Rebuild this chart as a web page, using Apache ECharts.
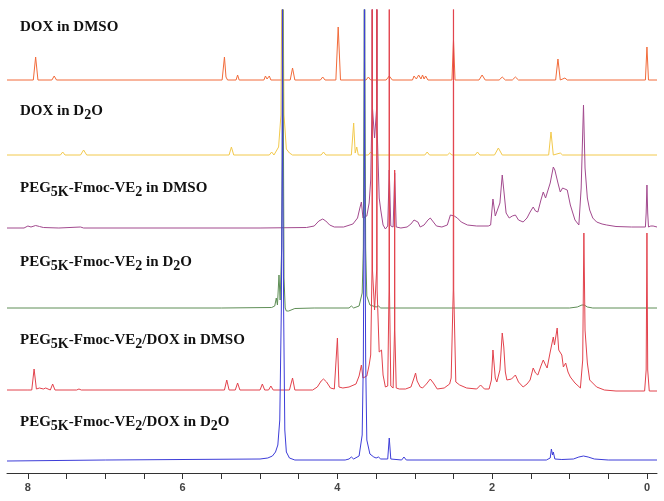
<!DOCTYPE html>
<html>
<head>
<meta charset="utf-8">
<script src="https://cdn.jsdelivr.net/npm/echarts@6/dist/echarts.min.js"></script>
<style>
  html, body { margin: 0; padding: 0; background: #fff; }
  #chart { width: 664px; height: 501px; }
</style>
</head>
<body>
<div id="chart"></div>
<script>
// chemical shift axis (ppm), drawn right-to-left
const ppmMin = -0.13
const ppmMax = 8.27
const majorTicks = [0, 2, 4, 6, 8]
const minorTicks = [0, 0.5, 1, 1.5, 2, 2.5, 3, 3.5, 4, 4.5, 5, 5.5, 6, 6.5, 7, 7.5, 8]

// spectra: [ppm, intensity], intensity in plot units above each baseline
const doxDmso = [
  [8.27, 0], [7.93, 0], [7.90, 23], [7.87, 0], [7.69, 0], [7.66, 4], [7.63, 0],
  [5.49, 0], [5.46, 23], [5.44, 3], [5.42, 0], [5.31, 0], [5.29, 5], [5.27, 0],
  [4.95, 0], [4.93, 4], [4.91, 1], [4.88, 4], [4.86, 0],
  [4.61, 0], [4.58, 12], [4.55, 0], [4.22, 0], [4.19, 3], [4.16, 0],
  [4.02, 0], [3.99, 53], [3.96, 0], [3.63, 0], [3.60, 3], [3.57, 0],
  [3.37, 0], [3.33, 4], [3.29, 0],
  [3.03, 0], [3.01, 4], [2.98, 1], [2.95, 5], [2.92, 1], [2.90, 5], [2.88, 1], [2.86, 4], [2.83, 0],
  [2.52, 0], [2.50, 40], [2.48, 0], [2.17, 0], [2.13, 5], [2.09, 0],
  [1.91, 0], [1.87, 3], [1.83, 0], [1.74, 0], [1.70, 3], [1.66, 0],
  [1.18, 0], [1.15, 21], [1.12, 0], [1.06, 2], [1.03, 0],
  [0.02, 0], [0.00, 33], [-0.02, 0], [-0.13, 0]
]

const doxD2o = [
  [8.27, 0], [7.58, 0], [7.55, 3], [7.52, 0], [7.32, 0], [7.28, 5], [7.24, 0],
  [5.40, 0], [5.37, 8], [5.34, 0], [4.88, 0], [4.85, 3], [4.82, 0],
  [4.80, 2], [4.76, 8], [4.73, 40], [4.715, 200], [4.71, 600], [4.705, 200], [4.69, 40], [4.66, 6], [4.62, 2], [4.58, 0],
  [4.21, 0], [4.18, 3], [4.15, 0],
  [3.82, 0], [3.79, 32], [3.77, 2], [3.75, 8], [3.73, 0], [3.60, 0], [3.57, 3], [3.54, 0],
  [2.87, 0], [2.84, 3], [2.81, 0], [2.58, 0], [2.55, 2], [2.52, 0],
  [2.22, 0], [2.19, 3], [2.16, 0], [1.97, 0], [1.92, 7], [1.87, 0],
  [1.27, 0], [1.24, 23], [1.21, 0], [1.12, 2], [1.09, 0], [-0.13, 0]
]

const pegDmso = [
  [8.27, 0], [8.05, 0], [8.00, 2], [7.96, 1], [7.90, 2.5], [7.85, 1.5], [7.80, 0.5], [7.60, 0], [7.32, 1], [7.28, 0],
  [5.00, 0], [4.40, 0.5], [4.30, 2], [4.24, 7], [4.19, 9], [4.15, 7], [4.10, 3], [4.04, 1],
  [3.92, 1], [3.80, 4], [3.74, 10], [3.71, 20], [3.69, 26], [3.67, 10], [3.65, 8], [3.62, 12],
  [3.59, 25], [3.57, 48], [3.553, 120], [3.55, 600], [3.547, 120], [3.52, 90], [3.493, 120], [3.49, 600], [3.487, 100],
  [3.46, 30], [3.44, 18], [3.41, 3],
  [3.38, -1], [3.35, 2], [3.33, 58], [3.31, 2], [3.28, 1], [3.26, 55], [3.24, 1], [3.18, 0],
  [3.10, 1], [3.05, 4], [3.01, 8], [2.99, 9], [2.96, 6], [2.93, 1], [2.88, 3], [2.83, 8], [2.80, 10],
  [2.77, 7], [2.72, 2], [2.65, 1], [2.58, 3], [2.54, 13], [2.52, 15], [2.49, 12], [2.45, 10],
  [2.40, 6], [2.32, 3], [2.20, 2], [2.05, 2], [2.02, 3], [1.99, 29], [1.96, 12], [1.94, 11],
  [1.90, 25], [1.87, 53], [1.85, 38], [1.82, 15], [1.78, 10], [1.74, 12], [1.70, 13], [1.66, 8],
  [1.60, 6], [1.55, 10], [1.51, 16], [1.47, 21], [1.44, 17], [1.41, 16], [1.37, 28], [1.34, 36],
  [1.31, 30], [1.29, 28], [1.25, 45], [1.21, 61], [1.19, 58], [1.17, 56], [1.15, 45], [1.12, 36],
  [1.09, 40], [1.06, 39], [1.03, 38], [0.99, 23], [0.93, 8], [0.88, 3], [0.85, 40], [0.82, 123],
  [0.80, 60], [0.77, 30], [0.74, 18], [0.70, 10], [0.65, 6], [0.58, 4], [0.52, 3], [0.40, 1.5],
  [0.20, 1], [0.02, 1], [0.01, 15], [0.00, 43], [-0.01, 15], [-0.02, 1], [-0.05, 2], [-0.06, 3],
  [-0.08, 2], [-0.10, 1], [-0.13, 1]
]

const pegD2o = [
  [8.27, 0], [5.50, 0], [4.85, 0.5], [4.81, 2], [4.79, 10], [4.775, 3], [4.755, 33], [4.74, 8],
  [4.72, 60], [4.708, 250], [4.705, 600], [4.702, 250], [4.69, 30], [4.675, 0], [4.66, -3], [4.645, -1], [4.63, -3], [4.61, -1],
  [4.55, -0.5], [4.30, 0], [3.85, 0], [3.82, 2], [3.79, 0], [3.72, 2], [3.68, 15], [3.665, 60],
  [3.655, 250], [3.65, 600], [3.645, 250], [3.635, 60], [3.62, 12], [3.58, 3], [3.50, 1], [3.47, 2], [3.44, 0],
  [1.00, 0], [0.90, 1], [0.84, 3], [0.81, 3], [0.77, 1], [0.70, 0], [-0.13, 0]
]

const pegDoxDmso = [
  [8.27, 0], [8.00, 0], [7.95, 0], [7.92, 21], [7.89, 1], [7.85, 2], [7.83, 2], [7.80, 1], [7.77, 2],
  [7.75, 1], [7.71, 0], [7.68, 6], [7.65, 0], [7.37, 0], [7.34, 1], [7.31, 0],
  [5.46, 0], [5.43, 10], [5.40, 0], [5.32, 0], [5.29, 7], [5.26, 0], [5.00, 0], [4.97, 6], [4.94, 0],
  [4.89, 0], [4.86, 4], [4.83, 0], [4.62, 0], [4.58, 12], [4.55, 0],
  [4.32, 0], [4.26, 3], [4.21, 9], [4.18, 11], [4.14, 8], [4.09, 2], [4.04, 1], [4.02, 3], [4.00, 52],
  [3.98, 3], [3.93, 2], [3.85, 3], [3.76, 6], [3.72, 14], [3.69, 25], [3.67, 12], [3.65, 10],
  [3.62, 14], [3.59, 25], [3.57, 35], [3.553, 120], [3.55, 600], [3.547, 120], [3.52, 80],
  [3.493, 120], [3.49, 600], [3.487, 100], [3.46, 38], [3.43, 40],
  [3.41, 15], [3.38, 3], [3.35, 4], [3.333, 100], [3.33, 600], [3.327, 100], [3.31, 4], [3.28, 2],
  [3.262, 60], [3.26, 220], [3.258, 60], [3.24, 2],
  [3.20, 1], [3.12, 1], [3.05, 3], [3.01, 12], [2.99, 17], [2.97, 9], [2.95, 10], [2.93, 3],
  [2.90, 2], [2.85, 6], [2.80, 11], [2.76, 7], [2.71, 1], [2.62, 2], [2.55, 6], [2.53, 12],
  [2.503, 100], [2.50, 600], [2.497, 100], [2.47, 8], [2.42, 5], [2.33, 2], [2.20, 1], [2.15, 5], [2.10, 1], [2.04, 1],
  [2.01, 10], [1.99, 40], [1.96, 12], [1.94, 8], [1.90, 20], [1.87, 57], [1.85, 43], [1.83, 18],
  [1.81, 10], [1.75, 11], [1.70, 15], [1.66, 8], [1.60, 3], [1.55, 6], [1.51, 10], [1.47, 22],
  [1.44, 17], [1.41, 15], [1.37, 24], [1.34, 30], [1.31, 25], [1.29, 22], [1.25, 38], [1.21, 53],
  [1.195, 45], [1.16, 62], [1.14, 40], [1.10, 35], [1.08, 23], [1.05, 27], [1.02, 18], [0.99, 13],
  [0.93, 7], [0.86, 2], [0.83, 30], [0.815, 157], [0.80, 60], [0.77, 27], [0.74, 10], [0.65, 3],
  [0.55, 0], [0.40, -1], [0.03, -1], [0.01, 20], [0.00, 157], [-0.01, 20], [-0.03, -1], [-0.13, -1]
]

const pegDoxD2o = [
  [8.27, -1], [7.00, 0], [5.00, 1], [4.90, 2], [4.84, 4], [4.80, 8], [4.77, 15], [4.745, 40],
  [4.725, 150], [4.713, 300], [4.71, 600], [4.707, 300], [4.695, 150], [4.68, 30], [4.66, 8], [4.62, 2], [4.55, 0],
  [3.90, 0], [3.85, 1], [3.82, 3], [3.79, 1], [3.72, 4], [3.68, 25], [3.665, 100], [3.653, 300], [3.65, 600],
  [3.647, 300], [3.635, 100], [3.62, 20], [3.58, 6], [3.53, 3], [3.50, 2], [3.47, 3], [3.44, 1], [3.35, 1],
  [3.33, 22], [3.31, 1], [3.17, 0], [3.14, 3], [3.11, 0], [1.30, 0], [1.25, 2], [1.235, 11],
  [1.22, 5], [1.21, 8], [1.19, 1], [1.10, 0.5], [0.95, 1], [0.88, 3], [0.82, 4], [0.76, 3],
  [0.68, 1], [0.50, 0], [-0.13, 0]
]

const spectra = [doxDmso, doxD2o, pegDmso, pegD2o, pegDoxDmso, pegDoxD2o]
const offsets = [393, 318, 245, 165, 83, 13]
const colors = ['#f26b3a', '#f2c94c', '#a24a8e', '#5e8e56', '#e2424c', '#3d3dd8']

// labels: [text, isSubscript]
const labels = [
  [['DOX in DMSO', 0]],
  [['DOX in D', 0], ['2', 1], ['O', 0]],
  [['PEG', 0], ['5K', 1], ['-Fmoc-VE', 0], ['2', 1], [' in DMSO', 0]],
  [['PEG', 0], ['5K', 1], ['-Fmoc-VE', 0], ['2', 1], [' in D', 0], ['2', 1], ['O', 0]],
  [['PEG', 0], ['5K', 1], ['-Fmoc-VE', 0], ['2', 1], ['/DOX in DMSO', 0]],
  [['PEG', 0], ['5K', 1], ['-Fmoc-VE', 0], ['2', 1], ['/DOX in D', 0], ['2', 1], ['O', 0]]
]
const labelBaselines = [32, 116, 193, 267, 345, 427]

const chart = echarts.init(document.getElementById('chart'))

const fontFamily = '"Liberation Serif", "Times New Roman", serif'
const ctx = document.createElement('canvas').getContext('2d')
const graphics = []
labels.forEach((parts, i) => {
  let x = 20
  parts.forEach(([txt, sub]) => {
    const size = sub ? 14 : 15
    ctx.font = `bold ${size}px ${fontFamily}`
    graphics.push({
      type: 'text',
      x: x,
      y: labelBaselines[i] - 5 + (sub ? 4 : 0),
      style: {
        text: txt,
        fontSize: size,
        fontWeight: 'bold',
        fontFamily: fontFamily,
        fill: '#111',
        verticalAlign: 'middle'
      }
    })
    x += ctx.measureText(txt).width
  })
})

chart.setOption({
  animation: false,
  backgroundColor: '#fff',
  grid: { left: 7, right: 7, top: 10, bottom: 28 },
  xAxis: {
    type: 'value',
    inverse: true,
    min: ppmMin,
    max: ppmMax,
    axisLine: { show: true, lineStyle: { color: '#333', width: 1 } },
    axisTick: { show: true, length: 6, customValues: minorTicks, lineStyle: { color: '#333' } },
    axisLabel: {
      customValues: majorTicks,
      color: '#444',
      fontSize: 11,
      fontWeight: 'bold',
      fontFamily: '"Liberation Sans", Arial, sans-serif',
      margin: 9
    },
    splitLine: { show: false }
  },
  yAxis: { type: 'value', min: 0, max: 463, show: false },
  series: spectra.map((s, i) => ({
    type: 'line',
    data: s.map(p => [p[0], p[1] + offsets[i]]),
    symbol: 'none',
    clip: true,
    lineStyle: { color: colors[i], width: 1 }
  })),
  graphic: graphics
})
</script>
</body>
</html>
